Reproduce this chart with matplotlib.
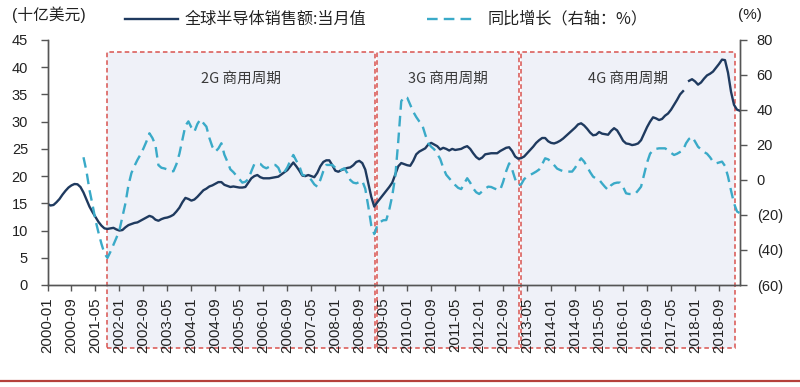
import numpy as np
import pandas as pd
import matplotlib
matplotlib.use("Agg")
import matplotlib.pyplot as plt
import matplotlib.transforms as mtransforms
from matplotlib.patches import Rectangle
from matplotlib.lines import Line2D

plt.rcParams['font.family'] = ['Liberation Sans', 'Noto Sans CJK SC', 'DejaVu Sans']

# ---------------- data ----------------
months = pd.date_range('2000-01-01', periods=232, freq='MS').strftime('%Y-%m').tolist()

sales = [
    14.9, 14.6, 14.7, 15.2, 15.8, 16.6, 17.3, 17.9, 18.3, 18.55, 18.5, 18.0,   # 2000
    17.0, 15.7, 14.4, 13.4, 12.5, 11.6, 10.9, 10.4, 10.3, 10.4, 10.5, 10.2,    # 2001
    10.0, 10.1, 10.6, 11.0, 11.2, 11.4, 11.5, 11.8, 12.1, 12.4, 12.7, 12.5,    # 2002
    12.0, 11.8, 12.1, 12.3, 12.4, 12.6, 12.9, 13.5, 14.2, 15.2, 16.0, 15.8,    # 2003
    15.5, 15.7, 16.2, 16.8, 17.4, 17.7, 18.1, 18.3, 18.6, 18.9, 18.9, 18.4,    # 2004
    18.2, 18.0, 18.1, 18.0, 17.9, 17.9, 18.0, 18.8, 19.6, 20.0, 20.2, 19.8,    # 2005
    19.6, 19.6, 19.6, 19.7, 19.8, 19.9, 20.3, 20.7, 21.1, 21.8, 22.5, 21.8,    # 2006
    21.0, 20.1, 20.0, 20.2, 20.0, 19.8, 20.6, 21.8, 22.6, 22.9, 22.9, 22.0,    # 2007
    21.0, 20.8, 21.1, 21.3, 21.5, 21.6, 22.0, 22.6, 22.8, 22.4, 21.2, 18.7,    # 2008
    16.2, 14.4, 15.2, 15.9, 16.6, 17.3, 18.0, 18.8, 20.3, 21.8, 22.4, 22.2,    # 2009
    22.0, 21.9, 22.8, 24.0, 24.5, 24.8, 25.1, 25.8, 26.1, 25.8, 25.5, 24.9,    # 2010
    25.2, 25.0, 24.7, 25.0, 24.8, 24.9, 25.0, 25.3, 25.5, 25.0, 24.2, 23.5,    # 2011
    23.1, 23.4, 24.0, 24.1, 24.2, 24.2, 24.2, 24.6, 24.9, 25.2, 25.3, 24.6,    # 2012
    23.6, 23.2, 23.3, 23.6, 24.2, 24.8, 25.4, 26.1, 26.6, 27.0, 27.0, 26.4,    # 2013
    26.1, 26.0, 26.2, 26.5, 26.9, 27.4, 27.9, 28.4, 28.9, 29.5, 29.7, 29.3,    # 2014
    28.7, 28.0, 27.5, 27.6, 28.1, 27.8, 27.7, 27.6, 28.3, 28.8, 28.4, 27.5,    # 2015
    26.5, 26.0, 25.9, 25.7, 25.8, 26.0, 26.6, 27.8, 29.0, 30.0, 30.8, 30.6,    # 2016
    30.3, 30.5, 31.1, 31.5, 32.2, 33.1, 34.0, 35.0, 35.6, np.nan, 37.5, 37.8,  # 2017
    37.4, 36.8, 37.2, 37.9, 38.5, 38.8, 39.2, 39.9, 40.6, 41.4, 41.3, 39.0,    # 2018
    35.5, 33.1, 32.2, 32.0,                                                    # 2019
]

yoy = [np.nan] * 12 + [
    13.0, 5.0, -5.7, -14, -22.9, -30, -36.5, -42, -44.5, -41, -37, -33,        # 2001
    -28.6, -21, -13.3, -3, 4, 8, 11.5, 14.5, 18, 22, 26.7, 24,                 # 2002
    20, 8.5, 7.0, 6.6, 6.0, 5.0, 5.0, 9.0, 15, 23, 31, 33.5,                   # 2003
    30, 27.6, 32, 34.7, 32.5, 30.5, 24, 19, 16.2, 18, 21, 14.5,                # 2004
    10.5, 6.1, 4.5, 2.5, 0.5, -1.5, -1, 0.5, 5, 9.1, 9.5, 9.2,                 # 2005
    7.5, 6.7, 7.6, 8.6, 8.6, 7, 3, 4.5, 7.2, 11, 14.3, 11,                     # 2006
    8, 3, 2.5, 2, 0, -2.5, -3.8, 0, 5, 8.6, 8.6, 8.6,                          # 2007
    7, 5.3, 5.8, 6.7, 4, 0, -1.5, -1.9, -1.2, -0.5, -5, -15,                   # 2008
    -26, -30.9, -26, -24, -23, -22.9, -17, -9, 2, 22, 45, 47.6,                # 2009
    47, 43, 39, 36, 33.5, 31.5, 26, 21, 19, 17.5, 15, 12,                      # 2010
    7, 3, 1, -1, -2.9, -4.5, -5.2, -2, 1, -1.5, -4.8, -7,                      # 2011
    -8, -6.5, -5, -3.8, -4, -4.8, -5.5, -5.7, -1, 5, 9.5, 6,                   # 2012
    0.5, -3, -2.5, 0.5, 2, 2.9, 3.8, 4.8, 6, 9, 12.4, 11.8,                    # 2013
    10.5, 8.5, 6.5, 5.7, 5, 4.8, 4.8, 4.8, 7, 10, 12.4, 10.5,                  # 2014
    7.6, 4.5, 1.9, 0.8, 0.2, -2, -4, -5.7, -3, -1.9, -1.5, -1.5,               # 2015
    -4, -7.6, -8, -8, -8, -6, -3.8, 3, 10, 15, 17.1, 17.8,                     # 2016
    18.1, 18.1, 18.1, 17, 15.5, 14.3, 15, 16, 17, 21, 23.5, 24.7,              # 2017
    22, 19, 17.5, 16, 15, 13, 10.5, 9.5, 10, 10.5, 8, 2,                       # 2018
    -6, -13.3, -18, -19,                                                       # 2019
]

cycle_names = ['2G 商用周期', '3G 商用周期', '4G 商用周期']
cycle_start = ['2001-09', '2009-03', '2013-03']
cycle_end = ['2009-02', '2013-02', '2019-02']

left_ticks = [0, 5, 10, 15, 20, 25, 30, 35, 40, 45]
right_ticks = [-60, -40, -20, 0, 20, 40, 60, 80]
right_labels = ['(60)', '(40)', '(20)', '0', '20', '40', '60', '80']

legend_sales = '全球半导体销售额:当月值'
legend_yoy = '同比增长（右轴：%）'

# ---------------- figure ----------------
W, H = 800, 387
fig = plt.figure(figsize=(W / 100, H / 100), dpi=100)
ax = fig.add_axes([47.5 / W, 1 - 285 / H, (740 - 47.5) / W, (285 - 40) / H])
ax2 = ax.twinx()

x = np.arange(len(months))
idx = {m: i for i, m in enumerate(months)}

navy = '#1f3a5f'
cyan = '#3aaac8'
red = '#d9534f'
fill = '#eff1f8'
axcol = '#555555'

# cycle boxes
trans = mtransforms.blended_transform_factory(ax.transData, ax.transAxes)
box_bottom = (285 - 348) / 245
box_top = (285 - 52) / 245
for name, s, e in zip(cycle_names, cycle_start, cycle_end):
    xs = idx[s] - 0.2
    xe = idx[e] + 0.4
    r = Rectangle((xs, box_bottom), xe - xs, box_top - box_bottom, transform=trans,
                  facecolor=fill, edgecolor=red, linestyle=(0, (3, 2)), linewidth=1.1,
                  clip_on=False, zorder=0.5)
    ax.add_patch(r)
    ax.text((xs + xe) / 2, 37.8, name, ha='center', va='center', fontsize=10.5,
            color='#3a3a3a', family=['Noto Sans CJK SC', 'DejaVu Sans'], zorder=3)

ax.plot(x, sales, color=navy, linewidth=1.7, zorder=3)
ax2.plot(x, yoy, color=cyan, linewidth=1.7, linestyle=(0, (4.5, 2.6)), zorder=3)

ax.set_xlim(0, len(months) - 1)
ax.set_ylim(0, 45)
ax2.set_ylim(-60, 80)

ax.set_xticks(x[::8])
ax.set_xticklabels(months[::8], rotation=90, fontsize=10.8, color='#222222')
ax.set_yticks(left_ticks)
ax.set_yticklabels([str(t) for t in left_ticks], fontsize=10.5, color='#222222')
ax2.set_yticks(right_ticks)
ax2.set_yticklabels(right_labels, fontsize=10.5, color='#222222')

ax.tick_params(axis='x', direction='out', length=4, width=1, color=axcol, pad=5)
ax.tick_params(axis='y', direction='out', length=5, width=1, color=axcol, pad=9)
ax2.tick_params(axis='y', direction='out', length=5, width=1, color=axcol, pad=7)

for a in (ax, ax2):
    a.spines['top'].set_visible(False)
    for sp in ('left', 'right', 'bottom'):
        a.spines[sp].set_color(axcol)
        a.spines[sp].set_linewidth(1)
ax.patch.set_alpha(0)
ax2.patch.set_alpha(0)

# legend & unit labels
ly = 1 - 19 / H
fig.add_artist(Line2D([125 / W, 178 / W], [ly, ly], color=navy, linewidth=1.7))
fig.text(185 / W, ly, legend_sales, ha='left', va='center', fontsize=11.6,
         family=['Noto Sans CJK SC', 'DejaVu Sans'], color='#222222')
fig.add_artist(Line2D([427 / W, 477 / W], [ly, ly], color=cyan, linewidth=1.7,
                      linestyle=(0, (4.5, 2.6))))
fig.text(488 / W, ly, legend_yoy, ha='left', va='center', fontsize=11.6,
         family=['Noto Sans CJK SC', 'DejaVu Sans'], color='#222222')
fig.text(12 / W, 1 - 15 / H, '(十亿美元)', ha='left', va='center', fontsize=11.3,
         family=['Liberation Sans', 'Noto Sans CJK SC'], color='#222222')
fig.text(738 / W, 1 - 15 / H, '(%)', ha='left', va='center', fontsize=11,
         family=['Liberation Sans'], color='#222222')

# bottom red rule
fig.add_artist(Line2D([0, 1], [1 - 381 / H, 1 - 381 / H], color='#b5403a', linewidth=1.6))

fig.savefig('out.png', dpi=100)
